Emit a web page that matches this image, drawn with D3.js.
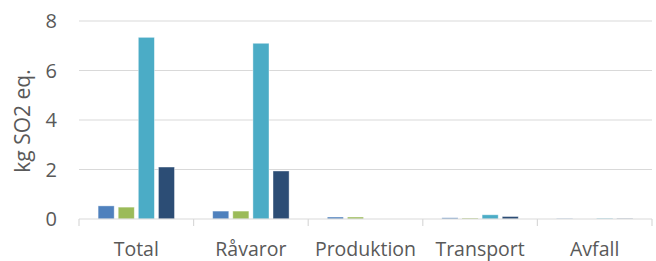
<!DOCTYPE html>
<html>
<head>
<meta charset="utf-8">
<script src="https://cdn.jsdelivr.net/npm/d3@7"></script>
<style>
  body { margin: 0; background: #fff; }
  text { font-family: "Open Sans", sans-serif; fill: #595959; }
</style>
</head>
<body>
<svg id="viz"></svg>
<script>
const categories = ["Total", "Råvaror", "Produktion", "Transport", "Avfall"];
const seriesNames = ["s1", "s2", "s3", "s4"];
const seriesColors = ["#4F81BD", "#9BBB59", "#4BACC6", "#2C4D75"];
const s1 = [0.53, 0.32, 0.08, 0.05, 0.02];
const s2 = [0.48, 0.32, 0.08, 0.04, 0.0];
const s3 = [7.34, 7.10, 0.0, 0.17, 0.03];
const s4 = [2.10, 1.94, 0.0, 0.10, 0.02];
const yTicks = [0, 2, 4, 6, 8];

const values = [s1, s2, s3, s4];
const data = categories.map((c, i) => ({
    cat: c,
    vals: seriesNames.map((s, j) => ({ key: s, v: values[j][i], color: seriesColors[j] }))
}));

const width = 656, height = 261;
const margin = { top: 21, right: 4, bottom: 42, left: 79 };

const svg = d3.select("#viz")
    .attr("width", width)
    .attr("height", height)
    .attr("viewBox", [0, 0, width, height]);

const x0 = d3.scaleBand()
    .domain(categories)
    .range([margin.left, width - margin.right])
    .paddingInner(0)
    .paddingOuter(0);

const x1 = d3.scaleBand()
    .domain(seriesNames)
    .range([0, x0.bandwidth()])
    .paddingOuter(0.95)
    .paddingInner(0.2);

const y = d3.scaleLinear()
    .domain([0, 8])
    .range([height - margin.bottom, margin.top]);

// gridlines
svg.append("g")
    .selectAll("line")
    .data(yTicks.filter(d => d > 0))
    .join("line")
        .attr("x1", margin.left)
        .attr("x2", width - margin.right)
        .attr("y1", d => y(d))
        .attr("y2", d => y(d))
        .attr("stroke", "#D9D9D9")
        .attr("stroke-width", 1.2);

// y tick labels
svg.append("g")
    .selectAll("text")
    .data(yTicks)
    .join("text")
        .attr("x", 57)
        .attr("y", d => y(d))
        .attr("dy", "0.36em")
        .attr("text-anchor", "end")
        .attr("font-size", 20)
        .text(d => d);

// bars
const groups = svg.append("g")
    .selectAll("g")
    .data(data)
    .join("g")
        .attr("transform", d => `translate(${x0(d.cat)},0)`);

groups.selectAll("rect")
    .data(d => d.vals)
    .join("rect")
        .attr("x", d => x1(d.key))
        .attr("width", x1.bandwidth())
        .attr("y", d => y(d.v))
        .attr("height", d => y(0) - y(d.v))
        .attr("fill", d => d.color)
        .attr("stroke", "#fff")
        .attr("stroke-opacity", 0.5)
        .attr("stroke-width", 0.8);

// x axis line and ticks
const xAxis = svg.append("g")
    .attr("transform", `translate(0,${y(0)})`);

xAxis.append("line")
    .attr("x1", margin.left)
    .attr("x2", width - margin.right)
    .attr("stroke", "#D9D9D9")
    .attr("stroke-width", 1.2);

const tickPos = categories.map(c => x0(c)).concat([x0.range()[1]]);
xAxis.selectAll(".tick")
    .data(tickPos)
    .join("line")
        .attr("class", "tick")
        .attr("x1", d => d)
        .attr("x2", d => d)
        .attr("y1", 0)
        .attr("y2", 7)
        .attr("stroke", "#D9D9D9")
        .attr("stroke-width", 1.2);

xAxis.selectAll(".lbl")
    .data(categories)
    .join("text")
        .attr("class", "lbl")
        .attr("x", d => x0(d) + x0.bandwidth() / 2)
        .attr("y", 37)
        .attr("text-anchor", "middle")
        .attr("font-size", 19.5)
        .text(d => d);

// y axis title
svg.append("text")
    .attr("transform", `translate(30,${(y(0) + y(8)) / 2 + 1}) rotate(-90)`)
    .attr("text-anchor", "middle")
    .attr("font-size", 21)
    .text("kg SO2 eq.");
</script>
</body>
</html>
